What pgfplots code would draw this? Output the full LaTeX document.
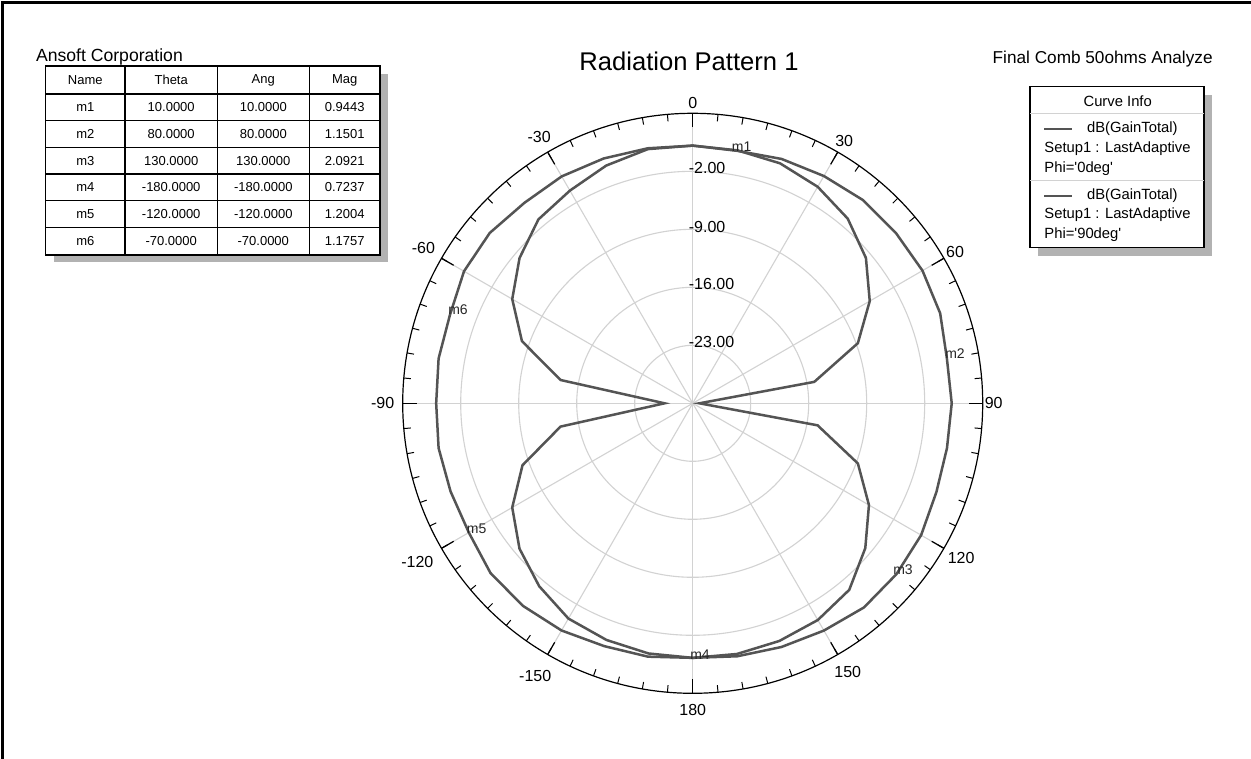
\documentclass[border=0pt]{standalone}
\usepackage{pgfplots}
\pgfplotsset{compat=1.18}
\usepackage{pgfplotstable}
\usepackage{fontspec}
\setmainfont{Liberation Sans}
\newfontfamily\lfont{Liberation Sans}
\definecolor{curve}{HTML}{545454}
\definecolor{gridc}{HTML}{D2D2D2}
\definecolor{shadowc}{HTML}{B2B2B2}

% dB(GainTotal), Phi = 0deg  (theta in degrees, gain in dB)
\pgfplotstableread{
theta mag
-180 0.72
-170 1.05
-160 1.19
-150 1.66
-140 1.90
-130 1.86
-120 1.20
-110 1.10
-100 1.14
-90 0.96
-80 1.14
-70 1.18
-60 1.87
-50 1.98
-40 1.59
-30 1.62
-20 1.44
-10 1.25
0 1.10
10 0.94
20 1.38
30 1.67
40 2.00
50 2.00
60 2.02
70 1.78
80 1.15
90 1.26
100 1.16
110 1.30
120 1.83
130 2.09
140 2.16
150 1.67
160 1.30
170 1.00
180 0.72
}\phizero

% dB(GainTotal), Phi = 90deg
\pgfplotstableread{
theta mag
-180 0.72
-170 0.66
-160 0.40
-150 0.00
-140 -1.18
-130 -2.71
-120 -4.85
-110 -8.14
-100 -13.8
-90 -26.6
-80 -13.8
-70 -8.07
-60 -4.85
-50 -2.72
-40 -1.03
-30 -0.36
-20 0.53
-10 1.15
0 1.10
10 1.00
20 0.82
30 0.17
40 -0.90
50 -2.71
60 -5.33
70 -8.79
80 -15.1
90 -29.2
100 -14.7
110 -8.79
120 -5.44
130 -2.81
140 -0.61
150 0.20
160 0.53
170 0.72
180 0.72
}\phininety

\newcommand{\cx}{692.7}
\newcommand{\cy}{403.3}

\begin{document}
\begin{tikzpicture}[x=0.5pt,y=-0.5pt]
\useasboundingbox (0,0) rectangle (1251,759);
\fill[white] (0,0) rectangle (1251,759);
\draw[line width=1.2pt] (2.5,759) -- (2.5,2.5) -- (1251,2.5);

% headings
\node[anchor=base, inner sep=0, font=\fontsize{12.8}{15}\selectfont] at (689,71) {Radiation Pattern 1};
\node[anchor=base west, inner sep=0, font=\fontsize{8.8}{10}\selectfont] at (35.7,61.7) {Ansoft Corporation};
\node[anchor=base east, inner sep=0, font=\fontsize{8.6}{10}\selectfont] at (1213,63.3) {Final Comb 50ohms Analyze};

% marker table
\fill[shadowc] (53.7,74) rectangle (388,262);
\filldraw[fill=white, draw=black, line width=0.6pt] (45.7,66) rectangle (380,255);
\foreach \xx in {125,217.3,309.3} \draw[line width=0.6pt] (\xx,66) -- (\xx,255);
\foreach \yy in {94,120.7,147.3,174,200.7,227.7} \draw[line width=0.6pt] (45.7,\yy) -- (380,\yy);
\begin{scope}[every node/.style={inner sep=0, font=\fontsize{6.5}{8}\selectfont}]
\node at (85.3,80) {Name}; \node at (171.2,80) {Theta}; \node at (263.3,80) {Ang}; \node at (344.7,80) {Mag};
\node at (85.3,107.3) {m1}; \node at (171.2,107.3) {10.0000}; \node at (263.3,107.3) {10.0000}; \node at (344.7,107.3) {0.9443};
\node at (85.3,134) {m2}; \node at (171.2,134) {80.0000}; \node at (263.3,134) {80.0000}; \node at (344.7,134) {1.1501};
\node at (85.3,160.7) {m3}; \node at (171.2,160.7) {130.0000}; \node at (263.3,160.7) {130.0000}; \node at (344.7,160.7) {2.0921};
\node at (85.3,187.3) {m4}; \node at (171.2,187.3) {-180.0000}; \node at (263.3,187.3) {-180.0000}; \node at (344.7,187.3) {0.7237};
\node at (85.3,214.2) {m5}; \node at (171.2,214.2) {-120.0000}; \node at (263.3,214.2) {-120.0000}; \node at (344.7,214.2) {1.2004};
\node at (85.3,241.3) {m6}; \node at (171.2,241.3) {-70.0000}; \node at (263.3,241.3) {-70.0000}; \node at (344.7,241.3) {1.1757};
\end{scope}

% legend (Curve Info)
\fill[shadowc] (1038,95) rectangle (1212,256);
\filldraw[fill=white, draw=black, line width=0.6pt] (1030,86.7) rectangle (1204,247.7);
\draw[gridc, line width=0.6pt] (1030,113.3) -- (1204,113.3);
\draw[gridc, line width=0.6pt] (1030,180.7) -- (1204,180.7);
\begin{scope}[every node/.style={inner sep=0, font=\lfont\fontsize{7.4}{9}\selectfont}]
\node at (1117.7,101) {Curve Info};
\draw[curve, line width=1.1pt] (1044,129) -- (1071.7,129);
\node[anchor=west] at (1086.7,129) {dB(GainTotal)};
\node[anchor=west] at (1044,149) {Setup1 : LastAdaptive};
\node[anchor=west] at (1044,168.3) {Phi='0deg'};
\draw[curve, line width=1.1pt] (1044,195.7) -- (1071.7,195.7);
\node[anchor=west] at (1086.7,195.7) {dB(GainTotal)};
\node[anchor=west] at (1044,215) {Setup1 : LastAdaptive};
\node[anchor=west] at (1044,234.3) {Phi='90deg'};
\end{scope}

% polar grid
\foreach \r in {58,116,174,232} \draw[gridc, line width=0.55pt] (\cx,\cy) circle[radius=\r];
\foreach \a in {0,30,...,330} \draw[gridc, line width=0.55pt] (\cx,\cy) -- ({\cx+290*sin(\a)},{\cy-290*cos(\a)});
\draw[black, line width=0.6pt] (\cx,\cy) circle[radius=290];
\foreach \a in {0,5,...,355} \draw[black, line width=0.5pt] ({\cx+290*sin(\a)},{\cy-290*cos(\a)}) -- ({\cx+283*sin(\a)},{\cy-283*cos(\a)});
\foreach \a in {0,30,...,330} \draw[black, line width=0.6pt] ({\cx+290*sin(\a)},{\cy-290*cos(\a)}) -- ({\cx+276*sin(\a)},{\cy-276*cos(\a)});

% radial labels
\begin{scope}[every node/.style={inner sep=0, anchor=west, font=\fontsize{8}{9}\selectfont}]
\node at (688.5,168.3) {-2.00};
\node at (688.5,226.5) {-9.00};
\node at (688.5,284.3) {-16.00};
\node at (688.5,342.3) {-23.00};
\end{scope}

% angle labels
\foreach \a/\t/\r in {0/0/300,30/30/303,60/60/303,90/90/301,120/120/310,150/150/310,180/180/307,-150/-150/315,-120/-120/318,-90/-90/310,-60/-60/311,-30/-30/307}
  \node[inner sep=0, font=\fontsize{8}{9}\selectfont] at ({\cx+\r*sin(\a)},{\cy-\r*cos(\a)}) {\t};

% data
\begin{axis}[at={(346.35pt,-201.65pt)}, anchor=origin, x=4.142857pt, y=4.142857pt,
  xmin=-35, xmax=35, ymin=-35, ymax=35, hide axis, clip=false]
\addplot[curve, line width=1.25pt, no markers] table[x expr={(\thisrow{mag}+30)*sin(\thisrow{theta})}, y expr={(\thisrow{mag}+30)*cos(\thisrow{theta})}] {\phizero};
\addplot[curve, line width=1.25pt, no markers] table[x expr={(\thisrow{mag}+30)*sin(\thisrow{theta})}, y expr={(\thisrow{mag}+30)*cos(\thisrow{theta})}] {\phininety};
\end{axis}

% marker labels
\begin{scope}[every node/.style={inner sep=0, text=black!85, font=\fontsize{7}{8}\selectfont}]
\node at (741.7,146.7) {m1};
\node at (955,353.3) {m2};
\node at (903,570) {m3};
\node at (700,654.3) {m4};
\node at (476.7,529) {m5};
\node at (458,310) {m6};
\end{scope}
\end{tikzpicture}
\end{document}
